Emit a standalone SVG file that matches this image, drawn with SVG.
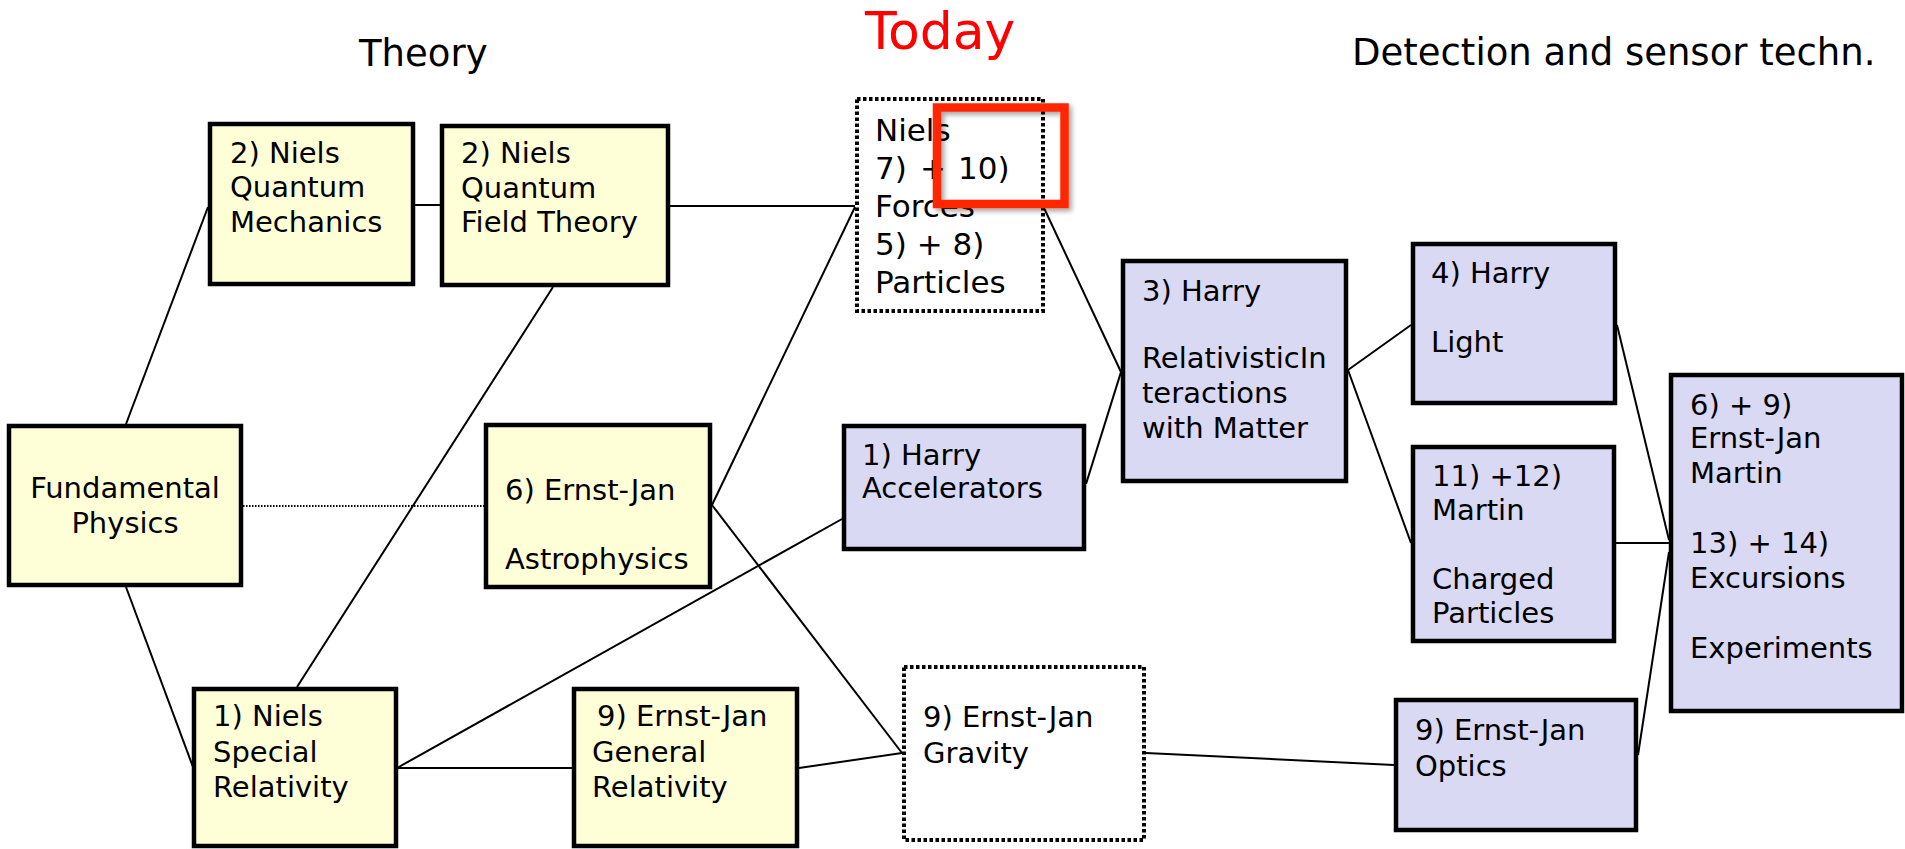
<svg xmlns="http://www.w3.org/2000/svg" width="1905" height="849" viewBox="0 0 1905 849">
<style>
  text { font-family: "DejaVu Sans", Verdana, sans-serif; fill: #000; }
  .lbl { font-size: 29px; }
  .lbl31 { font-size: 31px; }
  .hdr { font-size: 37px; }
  .today { font-size: 52px; fill: #ff0000; }
  .yel { fill: #ffffd7; stroke: #000; stroke-width: 4.5; }
  .lav { fill: #d9d9f4; stroke: #000; stroke-width: 4.5; }
  .dot { fill: #fff; stroke: #000; stroke-width: 4; stroke-dasharray: 3.5 2.5; }
  .con line { stroke: #000; stroke-width: 2; }
  .con line.dotted { stroke-width: 2; stroke-dasharray: 1.5 1.5; }
</style>
<defs>
  <filter id="shadow" x="-20%" y="-20%" width="140%" height="140%">
    <feDropShadow dx="3" dy="3" stdDeviation="2.5" flood-color="#000" flood-opacity="0.35"/>
  </filter>
</defs>
<rect width="1905" height="849" fill="#fff"/>

<g id="headers">
  <text class="hdr" x="359" y="66">Theory</text>
  <text class="today" x="865" y="49">Today</text>
  <text class="hdr" x="1352" y="65">Detection and sensor techn.</text>
</g>

<g id="connectors" class="con">
  <line x1="126" y1="424" x2="208" y2="207"/>
  <line x1="126" y1="587" x2="193" y2="767"/>
  <line class="dotted" x1="243" y1="506" x2="484" y2="506"/>
  <line x1="415" y1="205" x2="440" y2="205"/>
  <line x1="670" y1="206" x2="855" y2="206"/>
  <line x1="553" y1="287" x2="297" y2="687"/>
  <line x1="712" y1="505" x2="855" y2="207"/>
  <line x1="712" y1="505" x2="902" y2="753"/>
  <line x1="397" y1="768" x2="572" y2="768"/>
  <line x1="397" y1="768" x2="842" y2="519"/>
  <line x1="799" y1="768" x2="902" y2="753"/>
  <line x1="1146" y1="753" x2="1394" y2="765"/>
  <line x1="1044" y1="208" x2="1121" y2="372"/>
  <line x1="1086" y1="484" x2="1121" y2="372"/>
  <line x1="1348" y1="370" x2="1411" y2="325"/>
  <line x1="1348" y1="370" x2="1411" y2="543"/>
  <line x1="1617" y1="325" x2="1669" y2="540"/>
  <line x1="1616" y1="543" x2="1669" y2="543"/>
  <line x1="1638" y1="755" x2="1669" y2="552"/>
</g>

<g id="node-fundamental">
  <rect class="yel" x="9" y="426" width="232" height="159"/>
  <text class="lbl" x="125" y="498" text-anchor="middle">Fundamental</text>
  <text class="lbl" x="125" y="533" text-anchor="middle">Physics</text>
</g>

<g id="node-qm">
  <rect class="yel" x="210" y="124" width="203" height="160"/>
  <text class="lbl" x="230" y="163">2) Niels</text>
  <text class="lbl" x="230" y="197">Quantum</text>
  <text class="lbl" x="230" y="232">Mechanics</text>
</g>

<g id="node-qft">
  <rect class="yel" x="442" y="126" width="226" height="159"/>
  <text class="lbl" x="461" y="163">2) Niels</text>
  <text class="lbl" x="461" y="198">Quantum</text>
  <text class="lbl" x="461" y="232">Field Theory</text>
</g>

<g id="node-today">
  <rect class="dot" x="857" y="99" width="186" height="212"/>
  <text class="lbl31" x="875" y="141">Niels</text>
  <text class="lbl31" x="875" y="179">7) <tspan x="920">+ </tspan><tspan x="958">10)</tspan></text>
  <text class="lbl31" x="875" y="217">Forces</text>
  <text class="lbl31" x="875" y="255">5) + 8)</text>
  <text class="lbl31" x="875" y="293">Particles</text>
</g>

<g id="node-astro">
  <rect class="yel" x="486" y="425" width="224" height="162"/>
  <text class="lbl" x="505" y="500">6) Ernst-Jan</text>
  <text class="lbl" x="505" y="569">Astrophysics</text>
</g>

<g id="node-accel">
  <rect class="lav" x="844" y="426" width="240" height="123"/>
  <text class="lbl" x="862" y="465">1) Harry</text>
  <text class="lbl" x="862" y="498">Accelerators</text>
</g>

<g id="node-sr">
  <rect class="yel" x="194" y="689" width="202" height="157"/>
  <text class="lbl" x="213" y="726">1) Niels</text>
  <text class="lbl" x="213" y="762">Special</text>
  <text class="lbl" x="213" y="797">Relativity</text>
</g>

<g id="node-gr">
  <rect class="yel" x="574" y="689" width="223" height="157"/>
  <text class="lbl" x="597" y="726">9) Ernst-Jan</text>
  <text class="lbl" x="592" y="762">General</text>
  <text class="lbl" x="592" y="797">Relativity</text>
</g>

<g id="node-gravity">
  <rect class="dot" x="904" y="667" width="240" height="173"/>
  <text class="lbl" x="923" y="727">9) Ernst-Jan</text>
  <text class="lbl" x="923" y="763">Gravity</text>
</g>

<g id="node-harry3">
  <rect class="lav" x="1123" y="261" width="223" height="220"/>
  <text class="lbl" x="1142" y="301">3) Harry</text>
  <text class="lbl" x="1142" y="368">RelativisticIn</text>
  <text class="lbl" x="1142" y="403">teractions</text>
  <text class="lbl" x="1142" y="438">with Matter</text>
</g>

<g id="node-light">
  <rect class="lav" x="1413" y="244" width="202" height="159"/>
  <text class="lbl" x="1431" y="283">4) Harry</text>
  <text class="lbl" x="1431" y="352">Light</text>
</g>

<g id="node-charged">
  <rect class="lav" x="1413" y="447" width="201" height="194"/>
  <text class="lbl" x="1432" y="486">11) +12)</text>
  <text class="lbl" x="1432" y="520">Martin</text>
  <text class="lbl" x="1432" y="589">Charged</text>
  <text class="lbl" x="1432" y="623">Particles</text>
</g>

<g id="node-optics">
  <rect class="lav" x="1396" y="700" width="240" height="130"/>
  <text class="lbl" x="1415" y="740">9) Ernst-Jan</text>
  <text class="lbl" x="1415" y="776">Optics</text>
</g>

<g id="node-excursions">
  <rect class="lav" x="1671" y="375" width="231" height="336"/>
  <text class="lbl" x="1690" y="415">6) + 9)</text>
  <text class="lbl" x="1690" y="448">Ernst-Jan</text>
  <text class="lbl" x="1690" y="483">Martin</text>
  <text class="lbl" x="1690" y="553">13) + 14)</text>
  <text class="lbl" x="1690" y="588">Excursions</text>
  <text class="lbl" x="1690" y="658">Experiments</text>
</g>

<g id="highlight">
  <rect x="937" y="107.5" width="127.5" height="96.5" fill="none" stroke="#ff2600" stroke-width="8.5" filter="url(#shadow)"/>
</g>
</svg>
